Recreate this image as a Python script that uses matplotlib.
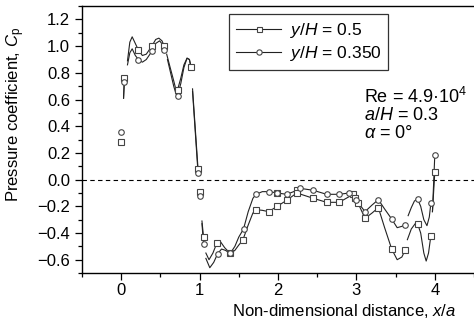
import matplotlib
matplotlib.use("Agg")
import matplotlib.pyplot as plt
from matplotlib.ticker import MultipleLocator

plt.rcParams["font.family"] = ["Liberation Sans", "DejaVu Sans"]
plt.rcParams["mathtext.fontset"] = "custom"
plt.rcParams["mathtext.rm"] = "Liberation Sans"
plt.rcParams["mathtext.it"] = "Liberation Sans:italic"

# ---------------- marker data ----------------
x_sq = [0.0, 0.04, 0.22, 0.39, 0.55, 0.72, 0.89, 0.98, 1.0, 1.05, 1.22, 1.39,
        1.55, 1.72, 1.88, 1.99, 1.99, 2.11, 2.24, 2.24, 2.45, 2.62, 2.78,
        2.96, 2.98, 3.02, 3.11, 3.28, 3.45, 3.62, 3.78, 3.95, 4.0]
cp_sq = [0.28, 0.76, 0.97, 1.0, 1.0, 0.675, 0.845, 0.08, -0.09, -0.43, -0.475, -0.553,
         -0.455, -0.225, -0.24, -0.20, -0.10, -0.155, -0.075, -0.10, -0.14, -0.17, -0.17,
         -0.11, -0.14, -0.175, -0.29, -0.21, -0.52, -0.53, -0.33, -0.42, 0.055]

x_ci = [0.0, 0.04, 0.22, 0.39, 0.55, 0.72, 0.98, 1.0, 1.05, 1.23, 1.39,
        1.56, 1.72, 1.89, 1.99, 2.11, 2.28, 2.45, 2.62, 2.78, 2.91, 3.0,
        3.11, 3.28, 3.45, 3.62, 3.78, 3.95, 4.0]
cp_ci = [0.36, 0.73, 0.90, 0.96, 0.97, 0.63, 0.05, -0.125, -0.48, -0.555, -0.553,
         -0.37, -0.11, -0.09, -0.10, -0.11, -0.065, -0.08, -0.11, -0.11, -0.10, -0.155,
         -0.24, -0.15, -0.295, -0.34, -0.145, -0.175, 0.185]

# ---------------- fitted curve pieces ----------------
curves_sq = [
    ([0.04, 0.03], [0.76, 0.61]),
    ([0.08, 0.11, 0.14, 0.18, 0.22, 0.27, 0.32, 0.39, 0.44, 0.48, 0.52, 0.55],
     [0.89, 1.03, 1.07, 1.02, 0.97, 0.93, 0.94, 1.0, 1.05, 1.06, 1.04, 1.0]),
    ([0.58, 0.62, 0.67, 0.70, 0.72, 0.76, 0.80, 0.84, 0.87, 0.89],
     [0.94, 0.85, 0.74, 0.67, 0.675, 0.76, 0.86, 0.91, 0.90, 0.845]),
    ([0.91, 0.98], [0.68, 0.08]),
    ([1.03, 1.05], [-0.31, -0.43]),
    ([1.08, 1.12, 1.17, 1.22, 1.26, 1.32, 1.39, 1.45, 1.50, 1.55, 1.62, 1.68, 1.72,
      1.80, 1.88, 1.99, 2.11, 2.24, 2.45, 2.62, 2.78, 2.96, 2.98, 3.02, 3.11, 3.20,
      3.28, 3.36, 3.45, 3.52, 3.58, 3.62],
     [-0.55, -0.60, -0.55, -0.475, -0.46, -0.51, -0.553, -0.53, -0.49, -0.455, -0.34,
      -0.25, -0.225, -0.23, -0.24, -0.20, -0.155, -0.10, -0.14, -0.17, -0.17, -0.11,
      -0.14, -0.175, -0.29, -0.25, -0.21, -0.36, -0.52, -0.60, -0.58, -0.53]),
    ([3.65, 3.70, 3.75, 3.78, 3.82, 3.86, 3.89, 3.92, 3.95],
     [-0.45, -0.37, -0.33, -0.33, -0.40, -0.55, -0.61, -0.55, -0.42]),
    ([3.97, 4.0], [-0.24, 0.055]),
]

curves_ci = [
    ([0.04, 0.03], [0.73, 0.61]),
    ([0.08, 0.11, 0.14, 0.18, 0.22, 0.27, 0.32, 0.39, 0.44, 0.49, 0.53, 0.55],
     [0.86, 0.95, 0.98, 0.93, 0.90, 0.88, 0.90, 0.96, 1.02, 1.04, 1.01, 0.97]),
    ([0.59, 0.63, 0.67, 0.70, 0.72, 0.76, 0.80, 0.84, 0.87, 0.89],
     [0.90, 0.80, 0.70, 0.64, 0.63, 0.72, 0.84, 0.91, 0.90, 0.845]),
    ([0.91, 0.98], [0.66, 0.05]),
    ([1.03, 1.05], [-0.33, -0.48]),
    ([1.08, 1.13, 1.18, 1.23, 1.28, 1.33, 1.39, 1.45, 1.50, 1.56, 1.62, 1.68, 1.72,
      1.80, 1.89, 1.99, 2.11, 2.20, 2.28, 2.45, 2.62, 2.78, 2.91, 3.0, 3.11, 3.20,
      3.28, 3.36, 3.45, 3.52, 3.58, 3.62],
     [-0.59, -0.66, -0.62, -0.555, -0.52, -0.53, -0.553, -0.50, -0.43, -0.37, -0.24,
      -0.14, -0.11, -0.09, -0.09, -0.10, -0.11, -0.09, -0.065, -0.08, -0.11, -0.11,
      -0.10, -0.155, -0.24, -0.19, -0.15, -0.22, -0.295, -0.36, -0.35, -0.34]),
    ([3.66, 3.70, 3.74, 3.78, 3.82, 3.86, 3.90, 3.93, 3.95],
     [-0.27, -0.21, -0.16, -0.145, -0.20, -0.30, -0.345, -0.28, -0.175]),
    ([3.97, 4.0], [-0.24, 0.185]),
]

fig = plt.figure(figsize=(4.74, 3.22), dpi=100)
ax = fig.add_axes([0.173, 0.152, 0.827, 0.829])

lc = "#222222"
for xs, ys in curves_sq:
    ax.plot(xs, ys, color=lc, lw=0.8, zorder=2)
for xs, ys in curves_ci:
    ax.plot(xs, ys, color=lc, lw=0.8, zorder=2)

mk = dict(ls="none", mfc="white", mec="#444444", mew=0.8, zorder=3)
ax.plot(x_sq, cp_sq, marker="s", ms=3.8, **mk)
ax.plot(x_ci, cp_ci, marker="o", ms=4.0, **mk)

ax.axhline(0, color="black", lw=0.8, ls=(0, (4, 3)), zorder=1)

# legend handles
h1, = ax.plot([], [], color=lc, lw=0.8, marker="s", ms=3.6, mfc="white",
              mec="#444444", mew=0.8)
h2, = ax.plot([], [], color=lc, lw=0.8, marker="o", ms=3.8, mfc="white",
              mec="#444444", mew=0.8)
leg = ax.legend([h1, h2], ["$y/H$ = 0.5", "$y/H$ = 0.350"], loc="upper left",
                bbox_to_anchor=(0.375, 0.97), fontsize=12.5, frameon=True,
                fancybox=False, edgecolor="black", handlelength=2.6,
                borderpad=0.4, labelspacing=0.25, handletextpad=0.5,
                borderaxespad=0)
leg.get_frame().set_linewidth(0.9)

ax.text(0.72, 0.659, "Re = 4.9·10$^4$", transform=ax.transAxes, fontsize=13, va="center")
ax.text(0.72, 0.592, "$a/H$ = 0.3", transform=ax.transAxes, fontsize=13, va="center")
ax.text(0.72, 0.522, "$\\alpha$ = 0°", transform=ax.transAxes, fontsize=13, va="center")

ax.set_xlim(-0.5, 4.5)
ax.set_ylim(-0.7, 1.3)
ax.set_xticks([0, 1, 2, 3, 4])
ax.set_yticks([-0.6, -0.4, -0.2, 0.0, 0.2, 0.4, 0.6, 0.8, 1.0, 1.2])
ax.xaxis.set_minor_locator(MultipleLocator(0.5))
ax.yaxis.set_minor_locator(MultipleLocator(0.1))
ax.tick_params(which="both", direction="out", labelsize=12, width=0.9)
ax.tick_params(which="major", length=5)
ax.tick_params(which="minor", length=3)
ax.tick_params(axis="x", pad=2)
ax.spines["right"].set_visible(False)
for s in ["left", "top", "bottom"]:
    ax.spines[s].set_linewidth(1.0)

ax.set_xlabel("Non-dimensional distance, $x/a$", fontsize=12)
ax.xaxis.set_label_coords(0.668, -0.11)
ax.set_ylabel("Pressure coefficient, $C_\\mathrm{p}$", fontsize=12)
ax.yaxis.set_label_coords(-0.14, 0.595)

fig.savefig("out.png", dpi=100)
